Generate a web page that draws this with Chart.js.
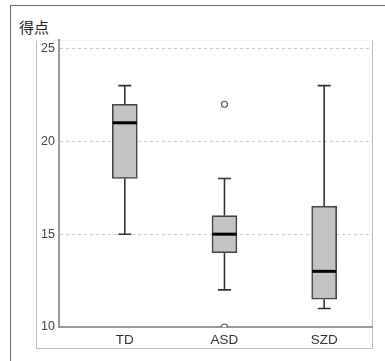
<!DOCTYPE html>
<html>
<head>
<meta charset="utf-8">
<script src="https://cdn.jsdelivr.net/npm/chart.js@4"></script>
<style>
html,body{margin:0;padding:0;background:#fff;overflow:hidden;}
#wrap{position:relative;width:385px;height:361px;}
#outer{position:absolute;left:10px;top:5px;width:500px;height:500px;border:1px solid #666;box-sizing:border-box;}
#inner{position:absolute;left:36px;top:40px;width:337px;height:309px;border:1px solid #bbb;border-top:1px solid #f0f0f0;box-sizing:border-box;}
#ylab{position:absolute;left:19px;top:17px;font:15px "Noto Sans CJK JP";color:#222;line-height:20px;}
canvas{position:absolute;left:0;top:0;}
</style>
</head>
<body>
<div id="wrap">
<div id="outer"></div>
<div id="inner"></div>
<div id="ylab">得点</div>
<canvas id="c" width="385" height="361"></canvas>
</div>
<script>
const categories = ["TD", "ASD", "SZD"];
const whiskerLow = [15, 12, 11];
const q1 = [18, 14, 11.5];
const median = [21, 15, 13];
const q3 = [22, 16, 16.5];
const whiskerHigh = [23, 18, 23];
const outliers = [[], [22, 10], []];
const yTicks = [10, 15, 20, 25];

const boxData = categories.map((c, i) => ({x: i + 1, y: [q1[i], q3[i]]}));
const outlierData = [];
outliers.forEach((arr, i) => arr.forEach(v => outlierData.push({x: i + 1, y: v})));

const boxPlugin = {
  id: 'boxParts',
  beforeDatasetsDraw(chart) {
    const ctx = chart.ctx, xs = chart.scales.x, ys = chart.scales.y;
    ctx.save();
    ctx.strokeStyle = '#333';
    ctx.lineWidth = 1.6;
    categories.forEach((c, i) => {
      const x = xs.getPixelForValue(i + 1);
      const yl = ys.getPixelForValue(whiskerLow[i]);
      const yh = ys.getPixelForValue(whiskerHigh[i]);
      const y1 = ys.getPixelForValue(q1[i]);
      const y3 = ys.getPixelForValue(q3[i]);
      ctx.beginPath();
      ctx.moveTo(x, yh); ctx.lineTo(x, y3);
      ctx.moveTo(x, y1); ctx.lineTo(x, yl);
      ctx.moveTo(x - 6.5, yh); ctx.lineTo(x + 6.5, yh);
      ctx.moveTo(x - 6.5, yl); ctx.lineTo(x + 6.5, yl);
      ctx.stroke();
    });
    ctx.restore();
  },
  afterDatasetsDraw(chart) {
    const ctx = chart.ctx, xs = chart.scales.x, ys = chart.scales.y;
    ctx.save();
    ctx.strokeStyle = '#000';
    ctx.lineWidth = 3;
    categories.forEach((c, i) => {
      const x = xs.getPixelForValue(i + 1);
      const ym = ys.getPixelForValue(median[i]);
      ctx.beginPath();
      ctx.moveTo(x - 12, ym); ctx.lineTo(x + 12, ym);
      ctx.stroke();
    });
    ctx.restore();
  }
};

new Chart(document.getElementById('c'), {
  type: 'bar',
  data: {
    datasets: [
      {
        type: 'bar',
        data: boxData,
        backgroundColor: '#c3c3c3',
        borderColor: '#444',
        borderWidth: 1.6,
        borderSkipped: false,
        barThickness: 25,
        order: 2
      },
      {
        type: 'scatter',
        data: outlierData,
        pointRadius: 3,
        pointBackgroundColor: '#fff',
        pointBorderColor: '#555',
        pointBorderWidth: 1.2,
        order: 1
      }
    ]
  },
  options: {
    responsive: false,
    animation: false,
    events: [],
    layout: {padding: {left: 36, top: 40, right: 13, bottom: 13}},
    plugins: {legend: {display: false}, tooltip: {enabled: false}},
    scales: {
      x: {
        type: 'linear',
        offset: false,
        min: 0.34,
        max: 3.48,
        afterBuildTicks: s => { s.ticks = categories.map((c, i) => ({value: i + 1})); },
        afterFit: s => { s.height = 21; },
        ticks: {
          callback: (v) => categories[v - 1],
          font: {family: 'Liberation Sans', size: 13.5},
          color: '#333',
          padding: 5,
          maxRotation: 0
        },
        grid: {display: false, drawTicks: false},
        border: {display: true, color: '#999', width: 2}
      },
      y: {
        min: 10,
        max: 25.46,
        afterBuildTicks: s => { s.ticks = yTicks.map(v => ({value: v})); },
        afterFit: s => { s.width = 23; },
        ticks: {
          font: {family: 'Liberation Sans', size: 12.5},
          color: '#444',
          padding: 4
        },
        grid: {
          drawTicks: false,
          color: ctx => (ctx.tick && ctx.tick.value === 10) ? 'rgba(0,0,0,0)' : '#c8c8c8',
          lineWidth: 1
        },
        border: {display: true, color: '#999', width: 2, dash: [3, 3]}
      }
    }
  },
  plugins: [boxPlugin]
});
</script>
</body>
</html>
